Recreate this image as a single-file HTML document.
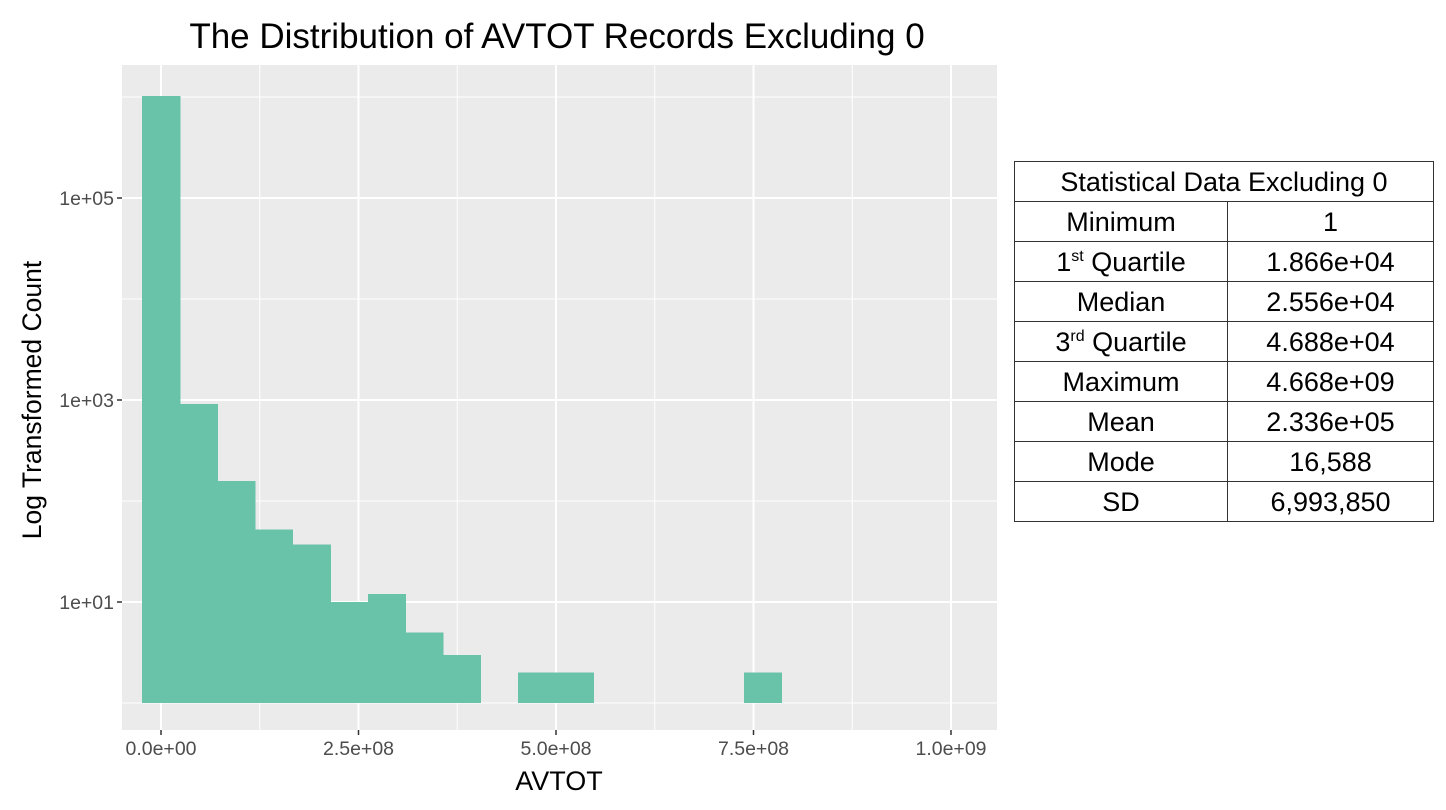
<!DOCTYPE html>
<html><head><meta charset="utf-8"><style>
body{margin:0;background:#fff;width:1446px;height:810px;overflow:hidden;font-family:"Liberation Sans",sans-serif;}
table{position:absolute;left:1014px;top:161px;border-collapse:collapse;width:420px;font-size:27px;color:#000;}
td{border:1.5px solid #333;height:39px;text-align:center;padding:0;line-height:38px;}
sup{font-size:16px;line-height:0;}
</style></head><body>
<svg id="chart" width="1000" height="810" style="position:absolute;left:0;top:0" xmlns="http://www.w3.org/2000/svg"></svg>
<table>
<tr><td colspan="2">Statistical Data Excluding 0</td></tr>
<tr><td style="width:212px">Minimum</td><td>1</td></tr>
<tr><td>1<sup>st</sup> Quartile</td><td>1.866e+04</td></tr>
<tr><td>Median</td><td>2.556e+04</td></tr>
<tr><td>3<sup>rd</sup> Quartile</td><td>4.688e+04</td></tr>
<tr><td>Maximum</td><td>4.668e+09</td></tr>
<tr><td>Mean</td><td>2.336e+05</td></tr>
<tr><td>Mode</td><td>16,588</td></tr>
<tr><td>SD</td><td>6,993,850</td></tr>
</table>
<script>
const binWidth = 4.76e7;
const binCounts = [1020000, 910, 158, 52, 37, 10, 12, 5, 3, 0, 2, 2, 0, 0, 0, 0, 2];
const xTicks = [0, 2.5e8, 5e8, 7.5e8, 1e9];
const xTickLabels = ["0.0e+00", "2.5e+08", "5.0e+08", "7.5e+08", "1.0e+09"];
const yTicks = [1e1, 1e3, 1e5];
const yTickLabels = ["1e+01", "1e+03", "1e+05"];
const yMinor = [1, 1e2, 1e4, 1e6];

const svg = document.getElementById('chart');
const NS = 'http://www.w3.org/2000/svg';
const P = {l:122, r:997, t:65, b:730};
const xs = v => 161 + v * 790 / 1e9;
const ys = v => 703 - Math.log10(v) * 101;
function mk(tag, attrs, text){const e=document.createElementNS(NS,tag);for(const k in attrs)e.setAttribute(k,attrs[k]);if(text!==undefined)e.textContent=text;svg.appendChild(e);return e;}

const bg = mk('rect',{x:P.l,y:P.t,width:P.r-P.l,height:P.b-P.t,fill:'#ebebeb'});


yMinor.forEach(v=>{const y=ys(v);if(y>P.t&&y<P.b){const l=mk('line',{x1:P.l,x2:P.r,y1:y,y2:y,stroke:'#fff','stroke-width':1});

}});
for(let i=0;i<4;i++){const x=xs(xTicks[i]+1.25e8);const l=mk('line',{x1:x,x2:x,y1:P.t,y2:P.b,stroke:'#fff','stroke-width':1});

}
yTicks.forEach((v,i)=>{const y=ys(v);
const l=mk('line',{x1:P.l,x2:P.r,y1:y,y2:y,stroke:'#fff','stroke-width':2});


const tk=mk('line',{x1:P.l-5,x2:P.l,y1:y,y2:y,stroke:'#333','stroke-width':1.5});


const t=mk('text',{x:P.l-8,y:y+7,'text-anchor':'end','font-size':19.5,fill:'#4d4d4d'},yTickLabels[i]);

});
xTicks.forEach((v,i)=>{const x=xs(v);
const l=mk('line',{x1:x,x2:x,y1:P.t,y2:P.b,stroke:'#fff','stroke-width':2});


const tk=mk('line',{x1:x,x2:x,y1:P.b,y2:P.b+5,stroke:'#333','stroke-width':1.5});


const t=mk('text',{x:x,y:P.b+25,'text-anchor':'middle','font-size':19.5,fill:'#4d4d4d'},xTickLabels[i]);

});
binCounts.forEach((c,i)=>{if(c<=0)return;
const x0=xs((i-0.5)*binWidth), x1=xs((i+0.5)*binWidth);
const y=ys(c), y0=ys(1);
const r=mk('rect',{x:x0,y:y,width:x1-x0+0.6,height:y0-y,fill:'#69c3a8','shape-rendering':'crispEdges'});

});
const ti=mk('text',{x:557,y:48,'text-anchor':'middle','font-size':35,fill:'#000'},'The Distribution of AVTOT Records Excluding 0');


const xt=mk('text',{x:559,y:790,'text-anchor':'middle','font-size':27,fill:'#000'},'AVTOT');


const yt=mk('text',{x:0,y:0,'text-anchor':'middle','font-size':26.5,fill:'#000',transform:'translate(41,400) rotate(-90)'},'Log Transformed Count');


</script>
</body></html>
